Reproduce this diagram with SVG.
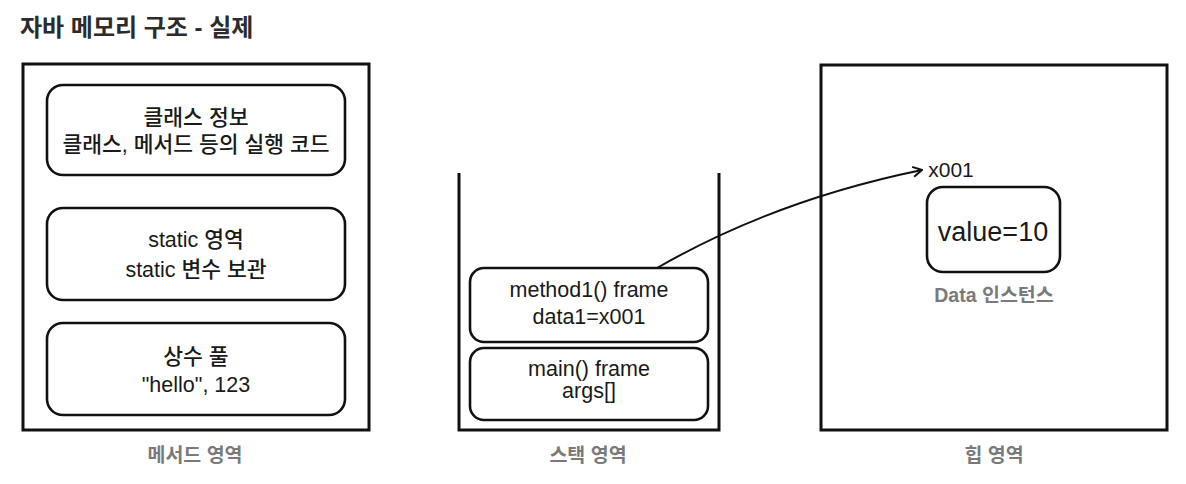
<svg xmlns="http://www.w3.org/2000/svg" width="1186" height="484" viewBox="0 0 1186 484">
  <style>
    text { font-family: "Liberation Sans", "Noto Sans CJK KR", sans-serif; text-anchor: middle; fill: #1a1a1a; }
    .title { font-size: 24px; font-weight: 700; text-anchor: start; fill: #2b2b2b; }
    .area { fill: #ffffff; stroke: #111111; stroke-width: 3; }
    .box { fill: #ffffff; stroke: #111111; stroke-width: 2.6; }
    .t { font-size: 21.5px; font-weight: 500; }
    .lbl { font-size: 19.5px; font-weight: 700; fill: #7a7a7a; }
    .big { font-size: 27px; }
    .edge { fill: none; stroke: #111111; stroke-width: 2; }
  </style>
  <defs>
    <marker id="arrow" viewBox="0 0 12 12" refX="11" refY="6" markerWidth="12" markerHeight="12" markerUnits="userSpaceOnUse" orient="auto">
      <path d="M2,1 L11,6 L2,11" fill="none" stroke="#111111" stroke-width="2"/>
    </marker>
  </defs>
  <rect width="1186" height="484" fill="#ffffff"/>

  <text id="title" class="title" x="20" y="36">자바 메모리 구조 - 실제</text>

  <g id="method-area">
    <rect class="area" x="23" y="64" width="346" height="366"/>
    <text class="lbl" x="195" y="462">메서드 영역</text>
  </g>
  <g id="class-info">
    <rect class="box" x="47" y="85" width="298" height="90" rx="16"/>
    <text class="t" x="196" y="125">클래스 정보</text>
    <text class="t" x="196" y="152">클래스, 메서드 등의 실행 코드</text>
  </g>
  <g id="static-area">
    <rect class="box" x="47" y="208" width="298" height="92" rx="16"/>
    <text class="t" x="196" y="247">static 영역</text>
    <text class="t" x="196" y="277">static 변수 보관</text>
  </g>
  <g id="constant-pool">
    <rect class="box" x="47" y="323" width="298" height="92" rx="16"/>
    <text class="t" x="196" y="364">상수 풀</text>
    <text class="t" x="196" y="392">"hello", 123</text>
  </g>

  <g id="stack-area">
    <path d="M459,173 L459,430 L719,430 L719,173" fill="none" stroke="#111111" stroke-width="3"/>
    <text class="lbl" x="588" y="462">스택 영역</text>
  </g>
  <g id="method1-frame">
    <rect class="box" x="470" y="268" width="238" height="74" rx="14"/>
    <text class="t" x="589" y="297">method1() frame</text>
    <text class="t" x="589" y="324">data1=x001</text>
  </g>
  <g id="main-frame">
    <rect class="box" x="470" y="348" width="238" height="72" rx="14"/>
    <text class="t" x="589" y="376">main() frame</text>
    <text class="t" x="589" y="398">args[]</text>
  </g>

  <g id="heap-area">
    <rect class="area" x="821" y="65" width="346" height="365"/>
    <text class="lbl" x="994" y="462">힙 영역</text>
  </g>
  <g id="data-instance">
    <rect class="box" x="927" y="187" width="133" height="85" rx="16"/>
    <text class="t big" x="993" y="241">value=10</text>
    <text x="951" y="177" style="font-size:21px">x001</text>
    <text class="lbl" x="994" y="302">Data 인스턴스</text>
  </g>

  <g id="connectors">
    <path class="edge" d="M657,268 Q775,200 922,170" marker-end="url(#arrow)"/>
  </g>
</svg>
